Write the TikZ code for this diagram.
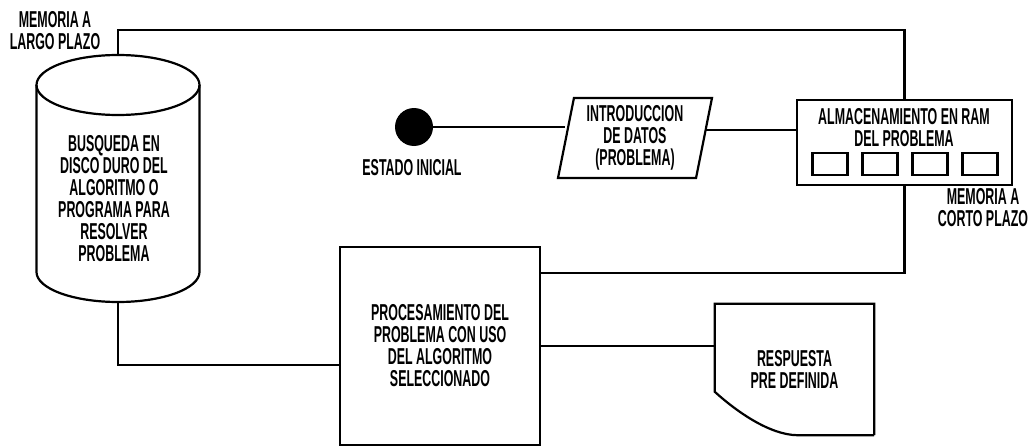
\documentclass[tikz,border=0pt]{standalone}
\usepackage{fontspec}
\setmainfont[FakeStretch=0.54]{Liberation Sans}
\usepackage{tikz}
\usetikzlibrary{shapes.geometric}

\begin{document}
\begin{tikzpicture}
[every node/.style={inner sep=0pt, align=center, font=\fontsize{23pt}{22pt}\selectfont\bfseries},
 caja/.style={rectangle, draw=black, line width=2.2pt},
 linea/.style={line width=2.2pt, color=black}]
\useasboundingbox (0pt,0pt) rectangle (1034pt,-447pt);
% memoria a largo plazo
\draw [linea, fill=white] (118pt,-85pt) ellipse [x radius=81.5pt, y radius=30pt];
\draw [linea] (36.5pt,-85pt) -- (36.5pt,-272pt) arc [start angle=180, end angle=360, x radius=81.5pt, y radius=30pt] -- (199.5pt,-85pt);
\coordinate (discoarriba) at (118pt,-55pt);
\coordinate (discoabajo) at (118pt,-302pt);
\node (disco) at (114pt,-199pt) {BUSQUEDA EN\\DISCO DURO DEL\\ALGORITMO O\\PROGRAMA PARA\\RESOLVER\\PROBLEMA};
\node (largo) at (55pt,-31pt) {MEMORIA A\\LARGO PLAZO};
% entrada
\node (ini) [circle, fill=black, minimum size=38pt] at (414pt,-127pt) {};
\node (initxt) at (412pt,-168pt) {ESTADO INICIAL};
\node (datos) [trapezium, trapezium left angle=79, trapezium right angle=101, trapezium stretches=true, minimum width=154pt, minimum height=80pt, draw=black, line width=2.2pt] at (635pt,-138pt) {INTRODUCCION\\DE DATOS\\(PROBLEMA)};
% memoria a corto plazo
\node (ram) [caja, minimum width=215pt, minimum height=85pt] at (904.5pt,-142.5pt) {};
\node (ramtxt) at (904pt,-128pt) {ALMACENAMIENTO EN RAM\\DEL PROBLEMA};
\foreach \n in {1,...,4}
  \node (celda\n) [caja, minimum width=35pt, minimum height=22pt] at (780pt+50pt*\n, -164pt) {};
\node (corto) at (983pt,-208pt) {MEMORIA A\\CORTO PLAZO};
% proceso y salida
\node (proc) [caja, minimum width=200pt, minimum height=198pt] at (440pt,-346pt) {PROCESAMIENTO DEL\\PROBLEMA CON USO\\DEL ALGORITMO\\SELECCIONADO};
\node (resp) [minimum width=159pt, minimum height=131pt] at (794.5pt,-369.5pt) {RESPUESTA\\PRE DEFINIDA};
\draw [linea] (resp.south east) -- (resp.north east) -- (resp.north west) -- ([yshift=-88pt]resp.north west) .. controls ([xshift=22pt,yshift=-108pt]resp.north west) and ([xshift=55pt,yshift=-131pt]resp.north west) .. ([xshift=-77pt]resp.south east) -- (resp.south east);
% conexiones
\coordinate (datosder) at ([yshift=8pt]datos.east);
\draw [linea] (discoarriba) -- ++(0pt,25pt) -| (ram.north);
\draw [linea] (discoabajo) |- ([yshift=-19pt]proc.west);
\draw [linea] (ram.south) |- (proc.east |- 0pt,-273pt);
\draw [linea] (ini) -- (ini -| datos.west);
\draw [linea] (datosder) -- (datosder -| ram.west);
\draw [linea] (proc.east) -- (proc.east -| resp.west);
\end{tikzpicture}
\end{document}
